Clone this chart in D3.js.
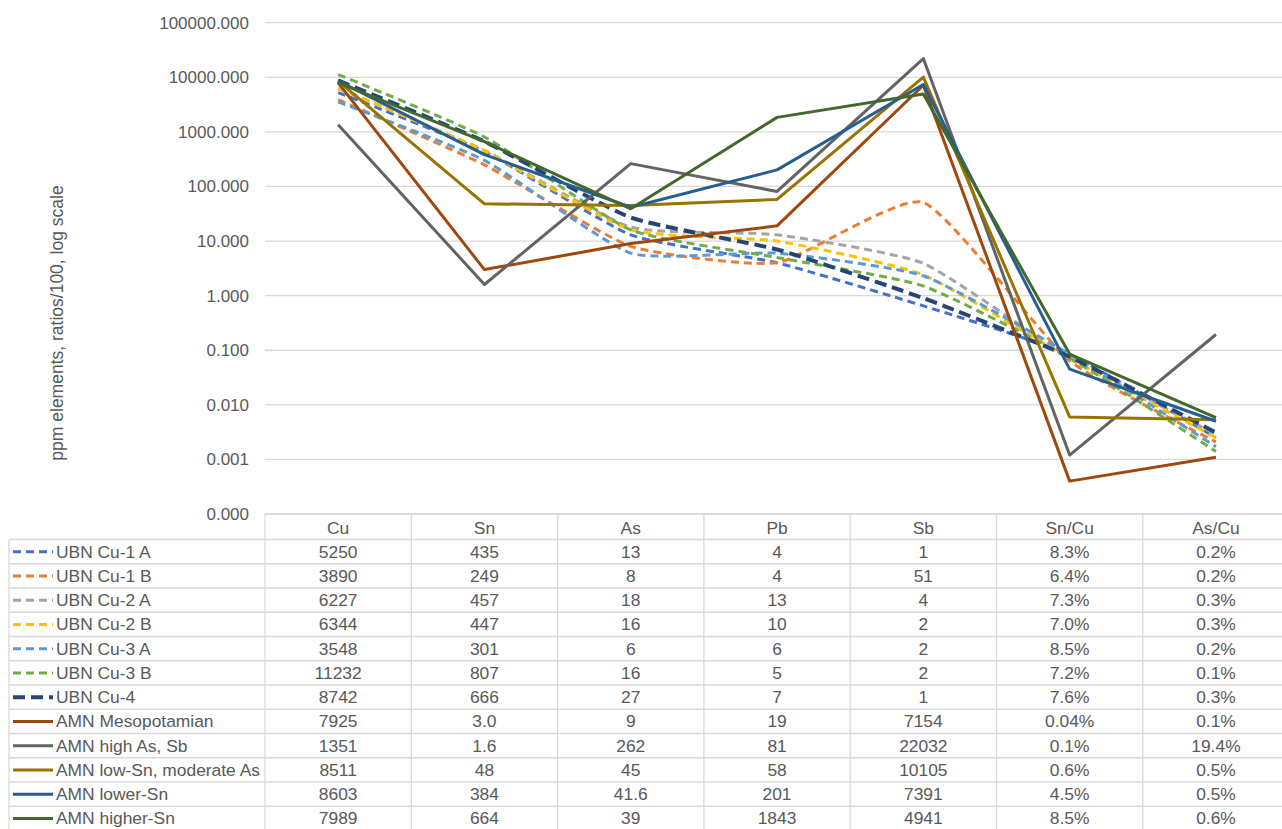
<!DOCTYPE html>
<html>
<head>
<meta charset="utf-8">
<script src="https://cdn.jsdelivr.net/npm/d3@7"></script>
<style>
  html, body { margin: 0; padding: 0; background: #fff; }
  svg { display: block; font-family: "Liberation Sans", Arial, sans-serif; }
</style>
</head>
<body>
<svg id="chart" width="1282" height="829"></svg>
<script>
// ---------- DATA ----------
const categories = ["Cu", "Sn", "As", "Pb", "Sb", "Sn/Cu", "As/Cu"];

const seriesNames = [
  "UBN Cu-1 A", "UBN Cu-1 B", "UBN Cu-2 A", "UBN Cu-2 B", "UBN Cu-3 A",
  "UBN Cu-3 B", "UBN Cu-4", "AMN Mesopotamian", "AMN high As, Sb",
  "AMN low-Sn, moderate As", "AMN lower-Sn", "AMN higher-Sn"
];

// plotted values (ppm elements, ratios/100)
const ubnCu1A = [5250, 435, 13, 4, 0.65, 0.083, 0.0025];
const ubnCu1B = [3890, 249, 8, 4, 51, 0.064, 0.0021];
const ubnCu2A = [6227, 457, 18, 13, 3.9, 0.073, 0.0029];
const ubnCu2B = [6344, 447, 16, 10, 2.4, 0.070, 0.0025];
const ubnCu3A = [3548, 301, 6, 6, 2.3, 0.085, 0.0017];
const ubnCu3B = [11232, 807, 16, 5, 1.5, 0.072, 0.0014];
const ubnCu4  = [8742, 666, 27, 7, 0.9, 0.076, 0.0031];
const amnMeso = [7925, 3.0, 9, 19, 7154, 0.0004, 0.0011];
const amnHighAs = [1351, 1.6, 262, 81, 22032, 0.0012, 0.194];
const amnLowSn = [8511, 48, 45, 58, 10105, 0.006, 0.0053];
const amnLowerSn = [8603, 384, 41.6, 201, 7391, 0.045, 0.0050];
const amnHigherSn = [7989, 664, 39, 1843, 4941, 0.085, 0.0058];

// table text as displayed
const tableText = [
  ["5250", "435", "13", "4", "1", "8.3%", "0.2%"],
  ["3890", "249", "8", "4", "51", "6.4%", "0.2%"],
  ["6227", "457", "18", "13", "4", "7.3%", "0.3%"],
  ["6344", "447", "16", "10", "2", "7.0%", "0.3%"],
  ["3548", "301", "6", "6", "2", "8.5%", "0.2%"],
  ["11232", "807", "16", "5", "2", "7.2%", "0.1%"],
  ["8742", "666", "27", "7", "1", "7.6%", "0.3%"],
  ["7925", "3.0", "9", "19", "7154", "0.04%", "0.1%"],
  ["1351", "1.6", "262", "81", "22032", "0.1%", "19.4%"],
  ["8511", "48", "45", "58", "10105", "0.6%", "0.5%"],
  ["8603", "384", "41.6", "201", "7391", "4.5%", "0.5%"],
  ["7989", "664", "39", "1843", "4941", "8.5%", "0.6%"]
];

const yTicks = [100000, 10000, 1000, 100, 10, 1, 0.1, 0.01, 0.001, 0.0001];
const yTitle = "ppm elements, ratios/100, log scale";

// ---------- STYLES ----------
const allValues = [ubnCu1A, ubnCu1B, ubnCu2A, ubnCu2B, ubnCu3A, ubnCu3B, ubnCu4,
  amnMeso, amnHighAs, amnLowSn, amnLowerSn, amnHigherSn];
const styles = [
  {c: "#4472C4", w: 3, dash: "8,5", smooth: true},
  {c: "#ED7D31", w: 3, dash: "8,5", smooth: true},
  {c: "#A5A5A5", w: 3, dash: "8,5", smooth: true},
  {c: "#FFC000", w: 3, dash: "8,5", smooth: true},
  {c: "#5B9BD5", w: 3, dash: "8,5", smooth: true},
  {c: "#70AD47", w: 3, dash: "8,5", smooth: true},
  {c: "#264478", w: 4, dash: "12,6", smooth: true},
  {c: "#9E480E", w: 3, dash: null, smooth: false},
  {c: "#636363", w: 3, dash: null, smooth: false},
  {c: "#997300", w: 3, dash: null, smooth: false},
  {c: "#255E91", w: 3, dash: null, smooth: false},
  {c: "#43682B", w: 3, dash: null, smooth: false}
];

const series = seriesNames.map((n, i) => ({name: n, values: allValues[i], style: styles[i], text: tableText[i]}));

// ---------- LAYOUT ----------
const W = 1282, H = 829;
const svg = d3.select("#chart");
const txt = "#595959", gridC = "#d9d9d9";
const FS = 17.4;
const plotLeft = 265, colW = 146.3;
const x = d3.scaleBand().domain(categories).range([plotLeft, plotLeft + colW * categories.length]).padding(0);
const cx = c => x(c) + x.bandwidth() / 2;
const y = d3.scaleLog().domain([0.0001, 100000]).range([514, 22.7]);

// grid
svg.append("g").selectAll("line").data(yTicks).join("line")
  .attr("x1", plotLeft).attr("x2", W)
  .attr("y1", d => y(d)).attr("y2", d => y(d))
  .attr("stroke", gridC).attr("stroke-width", 1.3);

// y axis labels
const yAxis = d3.axisLeft(y).tickValues(yTicks).tickSize(0).tickPadding(0).tickFormat(d3.format(".3f"));
const ga = svg.append("g").attr("transform", "translate(249,0)").call(yAxis);
ga.select(".domain").remove();
ga.selectAll("text").attr("fill", txt).attr("font-size", 17).attr("font-family", "Liberation Sans, Arial, sans-serif");

// y title
svg.append("text").attr("transform", "translate(63,323) rotate(-90)")
  .attr("text-anchor", "middle").attr("fill", txt).attr("font-size", 17.5).text(yTitle);

// lines
const lineLin = d3.line().x((d, i) => cx(categories[i])).y(d => y(d)).curve(d3.curveLinear);
const lineSm = d3.line().x((d, i) => cx(categories[i])).y(d => y(d)).curve(d3.curveCardinal.tension(0.5));
svg.append("g").selectAll("path").data(series).join("path")
  .attr("d", s => (s.style.smooth ? lineSm : lineLin)(s.values))
  .attr("fill", "none")
  .attr("stroke", s => s.style.c)
  .attr("stroke-width", s => s.style.w)
  .attr("stroke-dasharray", s => s.style.dash)
  .attr("stroke-linejoin", "round");

// ---------- TABLE ----------
const tTop = 514, headH = 25.5, rowH = 24.25, tLeft = 9;
const tRight = plotLeft + colW * categories.length;
const tg = svg.append("g");
const rowsTop = tTop + headH;
const tBottom = rowsTop + rowH * series.length;
// horizontal lines
tg.append("line").attr("x1", plotLeft).attr("x2", tRight).attr("y1", tTop).attr("y2", tTop).attr("stroke", gridC).attr("stroke-width", 1.3);
d3.range(series.length + 1).forEach(i => {
  tg.append("line").attr("x1", tLeft).attr("x2", tRight)
    .attr("y1", rowsTop + i * rowH).attr("y2", rowsTop + i * rowH)
    .attr("stroke", gridC).attr("stroke-width", 1.3);
});
// vertical lines
tg.append("line").attr("x1", tLeft).attr("x2", tLeft).attr("y1", rowsTop).attr("y2", tBottom).attr("stroke", gridC).attr("stroke-width", 1.3);
categories.forEach(c => {
  tg.append("line").attr("x1", x(c)).attr("x2", x(c)).attr("y1", tTop).attr("y2", tBottom).attr("stroke", gridC).attr("stroke-width", 1.3);
});
// header text
tg.selectAll("text.hdr").data(categories).join("text").attr("class", "hdr")
  .attr("x", d => cx(d)).attr("y", tTop + headH / 2 + 1).attr("dy", "0.35em")
  .attr("text-anchor", "middle").attr("fill", txt).attr("font-size", FS).text(d => d);
// rows
series.forEach((s, i) => {
  const yc = rowsTop + i * rowH + rowH / 2;
  tg.append("line").attr("x1", 13).attr("x2", 53).attr("y1", yc).attr("y2", yc)
    .attr("stroke", s.style.c).attr("stroke-width", s.style.w)
    .attr("stroke-dasharray", s.style.dash);
  tg.append("text").attr("x", 56).attr("y", yc).attr("dy", "0.35em")
    .attr("fill", txt).attr("font-size", FS).text(s.name);
  categories.forEach((c, j) => {
    tg.append("text").attr("x", cx(c)).attr("y", yc).attr("dy", "0.35em")
      .attr("text-anchor", "middle").attr("fill", txt).attr("font-size", FS).text(s.text[j]);
  });
});
</script>
</body>
</html>
